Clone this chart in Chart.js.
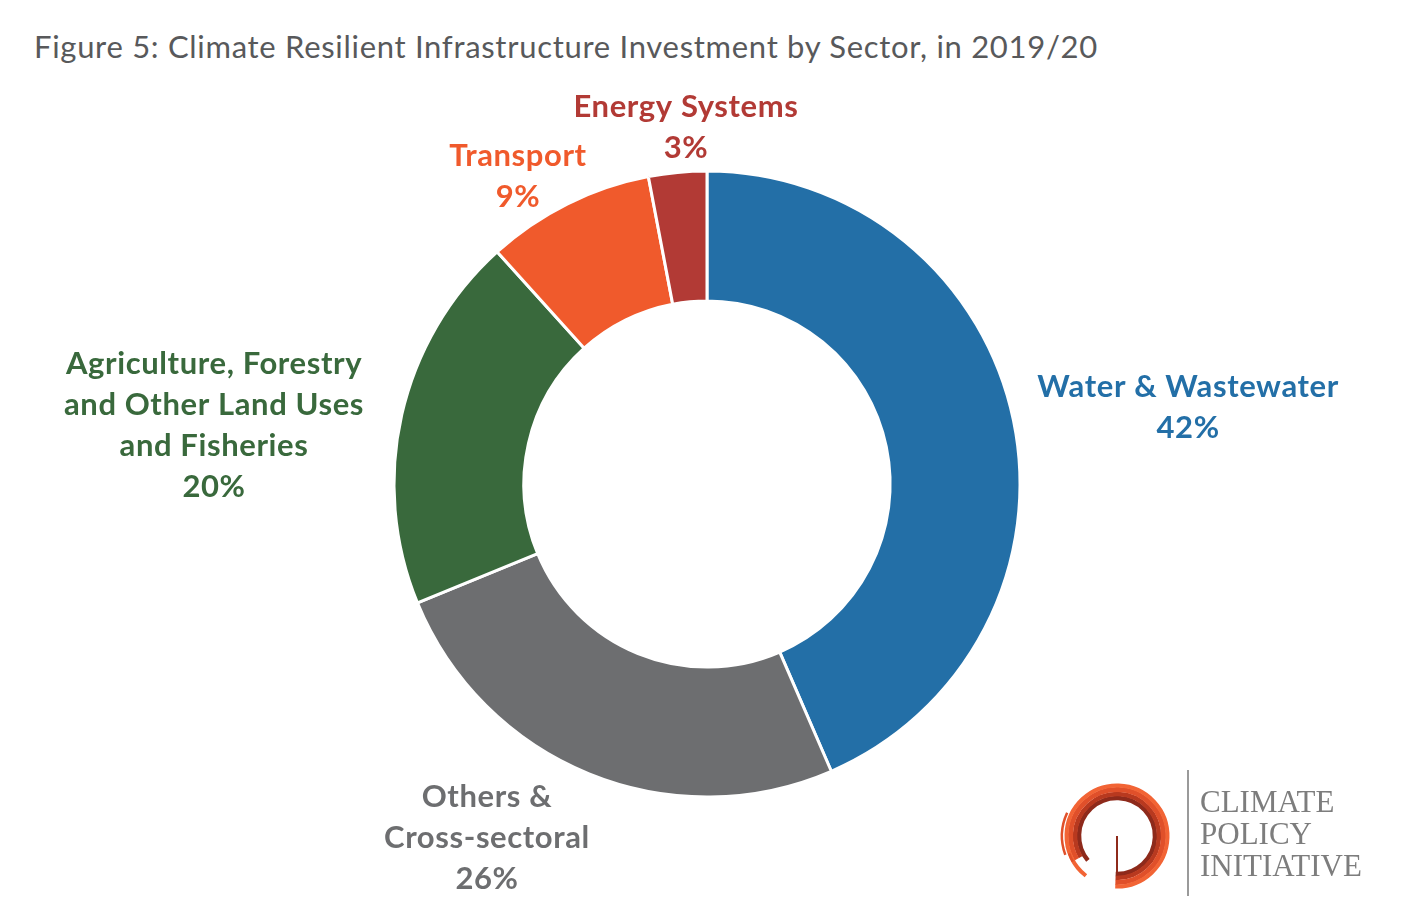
<!DOCTYPE html>
<html>
<head>
<meta charset="utf-8">
<script src="https://cdn.jsdelivr.net/npm/chart.js@4"></script>
<style>
  html, body { margin: 0; padding: 0; background: #fff; }
  #wrap { position: relative; width: 1404px; height: 922px; overflow: hidden; }
  #chartBox { position: absolute; left: 0; top: 0; width: 1404px; height: 922px; }
  #title { position: absolute; left: 34px; top: 27px; font: 31px Lato, "Open Sans", sans-serif; letter-spacing: 0.7px; color: #58595b; white-space: nowrap; }
  #logoText { position: absolute; left: 1200px; top: 786px; font: 31px "Liberation Serif", "DejaVu Serif", serif; color: #7d7d7d; line-height: 32px; }
  #logoLine { position: absolute; left: 1187px; top: 770px; width: 2px; height: 126px; background: #9a9a9a; }
  #logo { position: absolute; left: 1050px; top: 770px; }
</style>
</head>
<body>
<div id="wrap">
  <div id="title">Figure 5: Climate Resilient Infrastructure Investment by Sector, in 2019/20</div>
  <div id="chartBox"><canvas id="sectorChart"></canvas></div>
  <canvas id="logo" width="130" height="130"></canvas>
  <div id="logoLine"></div>
  <div id="logoText">CLIMATE<br>POLICY<br>INITIATIVE</div>
</div>
<script>
// Sectors, clockwise from 12 o'clock
const sectors = ["Water & Wastewater", "Others & Cross-sectoral", "Agriculture, Forestry and Other Land Uses and Fisheries", "Transport", "Energy Systems"];
// slice sizes (share of 100)
const shares = [43.5, 25.3, 19.5, 8.7, 3.0];
// printed labels
const labelLines = [
  ["Water & Wastewater", "42%"],
  ["Others &", "Cross-sectoral", "26%"],
  ["Agriculture, Forestry", "and Other Land Uses", "and Fisheries", "20%"],
  ["Transport", "9%"],
  ["Energy Systems", "3%"]
];
const colors = ["#236fa7", "#6d6e70", "#39693c", "#f05a2c", "#b23a35"];

// where each label block sits, relative to the centre, in outer radii
const labelAnchors = [
  [1.537, -0.246],
  [-0.703, 1.131],
  [-1.575, -0.187],
  [-0.604, -0.981],
  [-0.067, -1.139]
];

const outsideLabels = {
  id: "outsideLabels",
  afterDatasetsDraw(chart) {
    const ctx = chart.ctx;
    const arcs = chart.getDatasetMeta(0).data;
    ctx.save();
    ctx.font = "bold 31px Lato, 'Open Sans', sans-serif";
    ctx.letterSpacing = "0.6px";
    ctx.textAlign = "center";
    ctx.textBaseline = "middle";
    const lh = 41;
    arcs.forEach((arc, i) => {
      const r = arc.outerRadius;
      const cx = arc.x + labelAnchors[i][0] * r;
      const cy = arc.y + labelAnchors[i][1] * r;
      const lines = labelLines[i];
      const y0 = cy - (lines.length - 1) * lh / 2;
      ctx.fillStyle = colors[i];
      lines.forEach((t, k) => ctx.fillText(t, cx, y0 + k * lh));
    });
    ctx.restore();
  }
};

const ctx = document.getElementById("sectorChart").getContext("2d");
new Chart(ctx, {
  type: "doughnut",
  data: {
    labels: sectors,
    datasets: [{
      data: shares,
      backgroundColor: colors,
      borderColor: "#ffffff",
      borderWidth: 3
    }]
  },
  options: {
    responsive: true,
    maintainAspectRatio: false,
    animation: false,
    cutout: "58.5%",
    layout: { padding: { left: 392.5, right: 382.5, top: 169.5, bottom: 123.5 } },
    plugins: {
      legend: { display: false },
      tooltip: { enabled: false }
    }
  },
  plugins: [outsideLabels]
});

// CPI logo mark
(function drawLogo() {
  const g = document.getElementById("logo").getContext("2d");
  const cx = 67, cy = 66;
  const D = Math.PI / 180;
  const bands = [
    { r: 38, w: 4.5, c: "#8e2a1b", a0: 92, a1: 140 },
    { r: 42, w: 4.5, c: "#b8391f", a0: 92, a1: 150 },
    { r: 46.5, w: 5, c: "#e0502a", a0: 92, a1: 150 },
    { r: 50.5, w: 4, c: "#f26435", a0: 92, a1: 128 }
  ];
  bands.forEach(b => {
    g.beginPath();
    g.strokeStyle = b.c;
    g.lineWidth = b.w;
    g.arc(cx, cy, b.r, b.a0 * D, b.a1 * D, true);
    g.stroke();
  });
  // broken outer strokes on the left
  g.strokeStyle = "#e0502a";
  g.lineWidth = 2.5;
  g.beginPath(); g.arc(cx, cy, 55, 160 * D, 205 * D); g.stroke();
  g.beginPath(); g.arc(cx, cy, 51, 150 * D, 160 * D); g.stroke();
  // stem
  g.strokeStyle = "#8e2a1b";
  g.lineWidth = 2;
  g.beginPath(); g.moveTo(cx, cy); g.lineTo(cx, cy + 38); g.stroke();
})();
</script>
</body>
</html>
